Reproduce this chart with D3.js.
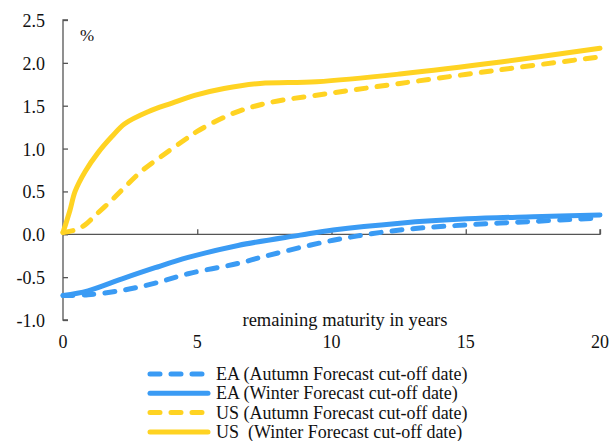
<!DOCTYPE html>
<html><head><meta charset="utf-8">
<script src="https://cdn.jsdelivr.net/npm/d3@7"></script>
<style>body{margin:0;background:#fff}svg{display:block}</style>
</head><body>
<svg id="c" width="611" height="441" font-family="'Liberation Serif', 'Times New Roman', serif"></svg>
<script>
const maturity_ea_winter = [0, 0.93, 2.2, 3.43, 4.66, 6.52, 8.83, 10.06, 12.55, 15.05, 17.5, 20];
const ea_winter = [-0.715, -0.66, -0.52, -0.39, -0.27, -0.13, -0.01, 0.05, 0.13, 0.18, 0.205, 0.225];
const maturity_ea_autumn = [0, 0.93, 2.2, 3.43, 4.66, 6.52, 7.6, 10.06, 12.55, 15.05, 17.5, 20];
const ea_autumn = [-0.715, -0.705, -0.655, -0.57, -0.46, -0.34, -0.25, -0.07, 0.05, 0.11, 0.15, 0.19];
const maturity_us_winter = [0, 0.26, 0.45, 0.82, 1.3, 1.82, 2.3, 3.17, 4.06, 4.9, 6.0, 7.34, 9.45, 12.55, 16.3, 20];
const us_winter = [0.02, 0.28, 0.5, 0.73, 0.95, 1.14, 1.29, 1.43, 1.53, 1.62, 1.7, 1.76, 1.78, 1.87, 2.01, 2.17];
const maturity_us_autumn = [0, 0.45, 0.82, 1.2, 1.82, 2.3, 2.94, 3.8, 4.66, 5.1, 6.33, 7.6, 10.06, 12.55, 16.3, 20];
const us_autumn = [0.02, 0.05, 0.11, 0.22, 0.4, 0.55, 0.74, 0.94, 1.13, 1.22, 1.41, 1.53, 1.65, 1.76, 1.92, 2.07];
const yTicks = [-1.0, -0.5, 0.0, 0.5, 1.0, 1.5, 2.0, 2.5];
const xTicks = [0, 5, 10, 15, 20];
const seriesNames = ["EA (Autumn Forecast cut-off date)", "EA (Winter Forecast cut-off date)", "US (Autumn Forecast cut-off date)", "US  (Winter Forecast cut-off date)"];

const svg = d3.select("#c");
const x = d3.scaleLinear().domain([0, 20]).range([63, 600]);
const y = d3.scaleLinear().domain([-1, 2.5]).range([320, 20]);
const BLUE = "#3a9bf4", YEL = "#ffd322", AX = "#555", TXT = "#111";

// y axis
const ya = svg.append("g").attr("transform", "translate(63,0)")
  .call(d3.axisRight(y).tickValues(yTicks).tickSize(5).tickFormat(""));
ya.select(".domain").attr("stroke", AX).attr("stroke-width", 1.3).attr("d", `M5,${y(2.5)}H0V${y(-1)}H5`);
ya.selectAll(".tick line").attr("stroke", AX).attr("stroke-width", 1.3);
svg.append("g").selectAll("text").data(yTicks).join("text")
  .attr("x", 45).attr("y", d => y(d) + 7).attr("text-anchor", "end").attr("fill", TXT)
  .attr("font-size", 18).text(d => d.toFixed(1));

// x axis
const xa = svg.append("g").attr("transform", `translate(0,${y(0)})`)
  .call(d3.axisTop(x).tickValues(xTicks).tickSize(5).tickFormat(""));
xa.select(".domain").attr("stroke", AX).attr("stroke-width", 1.3).attr("d", `M${x(0)},0H${x(20)}V-5`);
xa.selectAll(".tick line").attr("stroke", AX).attr("stroke-width", 1.3);
svg.append("g").selectAll("text").data(xTicks).join("text")
  .attr("x", d => x(d)).attr("y", 348).attr("text-anchor", "middle").attr("fill", TXT)
  .attr("font-size", 18).text(d => d);

svg.append("text").attr("x", 345).attr("y", 326).attr("text-anchor", "middle").attr("fill", TXT)
  .attr("font-size", 18.5).text("remaining maturity in years");
svg.append("text").attr("x", 80).attr("y", 41).attr("fill", TXT).attr("font-size", 17).text("%");

const series = [
  {xs: maturity_ea_autumn, ys: ea_autumn, color: BLUE, dash: true},
  {xs: maturity_ea_winter, ys: ea_winter, color: BLUE, dash: false},
  {xs: maturity_us_autumn, ys: us_autumn, color: YEL, dash: true},
  {xs: maturity_us_winter, ys: us_winter, color: YEL, dash: false},
];
const line = d3.line().x(d => x(d[0])).y(d => y(d[1])).curve(d3.curveCatmullRom.alpha(0.5));
series.forEach(s => {
  svg.append("path").datum(s.xs.map((v, i) => [v, s.ys[i]]))
    .attr("d", line).attr("fill", "none").attr("stroke", s.color)
    .attr("stroke-width", 5).attr("stroke-linecap", "round").attr("stroke-linejoin", "round")
    .attr("stroke-dasharray", s.dash ? "10,11" : null);
});

// legend
const lg = svg.append("g");
series.forEach((s, i) => {
  const yy = 374 + i * 19.3;
  lg.append("line").attr("x1", 150).attr("x2", 208).attr("y1", yy).attr("y2", yy)
    .attr("stroke", s.color).attr("stroke-width", 5).attr("stroke-linecap", "round")
    .attr("stroke-dasharray", s.dash ? "10,11" : null);
  lg.append("text").attr("x", 216).attr("y", yy + 6).attr("font-size", 18).attr("fill", TXT)
    .attr("xml:space", "preserve").style("white-space", "pre").text(seriesNames[i]);
});
</script>
</body></html>
